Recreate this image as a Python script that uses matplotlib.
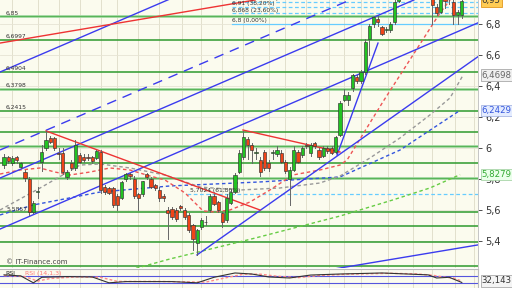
import matplotlib
matplotlib.use("Agg")
import matplotlib.pyplot as plt
from matplotlib.patches import Rectangle
from matplotlib.ticker import FuncFormatter

# ---------------- data ----------------
opens = [5.89, 5.94, 5.90, 5.94, 5.88, 5.845, 5.80, 5.59, 5.715, 5.91,
         6.00, 6.065, 6.065, 5.965, 5.97, 5.81, 5.90, 5.87, 5.955, 5.94,
         5.945, 5.94, 5.935, 5.975, 5.75, 5.74, 5.745, 5.69, 5.68, 5.80,
         5.83, 5.80, 5.70, 5.70, 5.83, 5.80, 5.76, 5.73, 5.69, 5.60,
         5.605, 5.60, 5.625, 5.60, 5.57, 5.50, 5.39, 5.49, 5.52, 5.60,
         5.69, 5.65, 5.58, 5.535, 5.645, 5.715, 5.845, 5.94, 6.06, 6.02,
         5.97, 5.92, 5.975, 5.90, 5.965, 5.96, 5.97, 5.91, 5.80, 5.86,
         5.975, 5.955, 6.02, 5.965, 6.03, 5.99, 5.95, 6.00, 6.00, 5.975,
         6.085, 6.31, 6.31, 6.39, 6.46, 6.43, 6.49, 6.70, 6.80, 6.83,
         6.78, 6.76, 6.76, 6.81, 6.95, 7.00, 7.01, 7.03, 7.02, 7.04,
         7.02, 7.00, 6.98, 6.91, 6.88, 6.97, 6.99, 6.94, 6.86, 6.86]
closes = [5.94, 5.915, 5.935, 5.92, 5.90, 5.805, 5.585, 5.645, 5.72, 5.975,
          6.05, 6.04, 6.00, 5.96, 5.845, 5.845, 5.87, 6.02, 5.91, 5.92,
          5.935, 5.915, 5.98, 5.73, 5.715, 5.71, 5.635, 5.635, 5.78, 5.83,
          5.82, 5.69, 5.68, 5.785, 5.81, 5.75, 5.74, 5.68, 5.675, 5.58,
          5.555, 5.545, 5.615, 5.555, 5.47, 5.41, 5.47, 5.535, 5.525, 5.69,
          5.64, 5.60, 5.52, 5.68, 5.715, 5.825, 5.97, 6.07, 6.02, 5.99,
          5.975, 5.845, 5.87, 5.87, 5.975, 5.99, 5.91, 5.85, 5.86, 5.99,
          5.91, 6.00, 6.01, 6.02, 6.01, 5.94, 6.00, 5.98, 5.97, 6.07,
          6.29, 6.34, 6.34, 6.47, 6.43, 6.49, 6.685, 6.79, 6.845, 6.81,
          6.735, 6.765, 6.80, 6.94, 7.00, 6.98, 7.03, 7.02, 7.04, 7.02,
          7.00, 6.98, 6.92, 6.87, 6.97, 6.95, 6.97, 6.86, 6.88, 6.95]
highs = [5.96, 5.95, 5.95, 5.95, 5.91, 5.86, 5.81, 5.66, 5.75, 6.02,
         6.11, 6.08, 6.07, 6.00, 6.00, 5.86, 5.92, 6.05, 5.97, 5.96,
         5.96, 5.95, 5.99, 5.99, 5.76, 5.75, 5.75, 5.70, 5.79, 5.84,
         5.84, 5.82, 5.71, 5.79, 5.84, 5.81, 5.77, 5.75, 5.70, 5.62,
         5.62, 5.61, 5.63, 5.61, 5.58, 5.51, 5.48, 5.55, 5.56, 5.70,
         5.70, 5.66, 5.59, 5.70, 5.73, 5.84, 5.99, 6.11, 6.07, 6.03,
         6.00, 5.94, 5.99, 5.92, 5.99, 6.01, 5.99, 5.92, 5.88, 6.01,
         5.99, 6.01, 6.03, 6.03, 6.04, 6.00, 6.01, 6.01, 6.01, 6.08,
         6.30, 6.38, 6.36, 6.48, 6.47, 6.50, 6.70, 6.80, 6.85, 6.85,
         6.79, 6.78, 6.81, 6.97, 7.02, 7.03, 7.05, 7.05, 7.06, 7.06,
         7.04, 7.02, 7.00, 6.93, 7.00, 6.99, 7.00, 6.96, 6.89, 6.97]
lows = [5.87, 5.90, 5.89, 5.90, 5.87, 5.79, 5.565, 5.58, 5.68, 5.85,
        5.99, 6.03, 5.99, 5.93, 5.83, 5.80, 5.86, 5.86, 5.90, 5.91,
        5.92, 5.90, 5.93, 5.71, 5.70, 5.70, 5.62, 5.60, 5.67, 5.79,
        5.80, 5.68, 5.60, 5.69, 5.80, 5.74, 5.73, 5.66, 5.66, 5.41,
        5.54, 5.53, 5.60, 5.54, 5.46, 5.34, 5.31, 5.48, 5.50, 5.59,
        5.63, 5.59, 5.49, 5.52, 5.64, 5.71, 5.84, 5.93, 5.93, 5.90,
        5.93, 5.82, 5.86, 5.85, 5.93, 5.95, 5.90, 5.84, 5.63, 5.85,
        5.90, 5.94, 6.00, 5.95, 6.00, 5.93, 5.94, 5.97, 5.96, 5.97,
        6.08, 6.30, 6.28, 6.37, 6.42, 6.42, 6.48, 6.60, 6.78, 6.79,
        6.73, 6.75, 6.75, 6.80, 6.94, 6.96, 6.99, 7.00, 7.00, 7.00,
        6.98, 6.96, 6.80, 6.86, 6.87, 6.90, 6.93, 6.80, 6.80, 6.84]

# moving averages (candle index, price)
ma_red_x = [-0.95, 3.8, 8.6, 12.1, 15.7, 20.5, 25.2, 30.0, 34.8, 38.3, 43.1, 47.4,
            50.2, 53.8, 58.6, 63.3, 68.8, 75.2, 80.0, 81.7, 90.2, 103.8, 106.2]
ma_red_y = [5.832, 5.858, 5.871, 5.845, 5.826, 5.845, 5.871, 5.858, 5.819, 5.794, 5.710, 5.594,
            5.587, 5.600, 5.652, 5.729, 5.826, 5.858, 5.890, 5.923, 6.297, 6.871, 6.955]
ma_gray_x = [-0.95, 8.6, 18.1, 22.9, 30.0, 38.3, 46.7, 56.2, 65.7, 75.2, 80.0, 87.1, 94.3, 101.4, 106.2, 109.3]
ma_gray_y = [5.600, 5.742, 5.890, 5.897, 5.871, 5.826, 5.748, 5.729, 5.742, 5.774, 5.819, 5.935, 6.065, 6.213, 6.323, 6.470]
ma_blue_x = [-0.95, 6.9, 22.9, 39.5, 61.0, 80.0, 94.3, 108.6]
ma_blue_y = [5.568, 5.632, 5.716, 5.755, 5.781, 5.813, 5.987, 6.243]
ma_green_x = [30.0, 39.5, 59.8, 80.0, 92.6, 101.4, 108.6]
ma_green_y = [5.213, 5.284, 5.419, 5.561, 5.665, 5.742, 5.828]

# trend lines: (x0, y0, x1, y1)
blue_solid_lines = [(-0.95, 6.490, 40.0, 6.967),
                    (-0.95, 5.806, 97.6, 6.955),
                    (-0.95, 5.477, 112.9, 6.808),
                    (45.95, 5.310, 112.9, 6.590),
                    (79.3, 5.955, 89.05, 6.677),
                    (60.0, 5.135, 112.9, 5.375)]
blue_dashed_lines = [(-0.95, 5.987, 82.4, 6.955)]
red_lines = [(10.0, 6.110, 60.95, 5.600),
             (-0.95, 6.677, 59.8, 6.955),
             (56.9, 6.116, 80.0, 5.974)]

# horizontal support / resistance levels
levels = [6.85, 6.6997, 6.4904, 6.3798, 6.2415, 6.106, 6.016, 5.90, 5.806, 5.5857, 5.497, 5.394, 5.239]
level_labels = {6.85: "6,85", 6.6997: "6,6997", 6.4904: "6,4904", 6.3798: "6,3798",
                6.2415: "6,2415", 5.5857: "5,5857"}
light_levels = [6.85, 6.3798, 6.016, 5.806]

# fibonacci retracements
fib_levels = [6.8, 6.868, 6.91, 6.944]
fib_labels = ["6,8 (0,00%)", "6,868 (23,60%)", "6,91 (38,20%)", "6,944 (50,00%)"]
fib2_level = 5.7024
fib2_label = "5,7024 (61,80%)"

grid_x = [2, 8, 13, 18, 23, 27, 32, 37, 42.5, 47, 52, 57, 63, 67, 72, 77.5, 81, 85, 91.5, 97.5, 102, 107.5, 112]
price_ticks = [5.4, 5.6, 5.8, 6.0, 6.2, 6.4, 6.6, 6.8]

# RSI
rsi_x = [0, 4, 7, 9, 15, 21, 25, 29, 35, 40, 46, 50, 55, 59, 63, 68, 73, 80, 90, 96, 101, 103, 106, 109]
rsi_y = [76, 70, 30, 62, 66, 64, 30, 37, 37, 37, 30, 62, 87, 81, 64, 58, 75, 81, 87, 81, 76, 58, 62, 32.1]
sig_x = [0, 5, 8, 11, 17, 23, 27, 31, 37, 42, 48, 52, 57, 61, 65, 70, 75, 82, 92, 98, 102, 105, 107, 109]
sig_y = [72, 66, 40, 55, 64, 62, 38, 38, 38, 36, 34, 55, 80, 80, 68, 60, 72, 80, 85, 82, 74, 62, 58, 40]

# ---------------- drawing ----------------
W, H = 512, 288
fig = plt.figure(figsize=(W / 100, H / 100), dpi=100)
fig.patch.set_facecolor("white")
bg = "#fbfbee"
xlim = (-0.95, 112.86)

ax = fig.add_axes([0, 20 / H, 478 / W, 268 / H])
ax.set_facecolor(bg)
ax.set_xlim(*xlim)
ax.set_ylim(5.2258, 6.9548)

for gx in grid_x:
    ax.axvline(gx, color="#e2e0cc", lw=0.7, zorder=0)
for t in price_ticks:
    ax.axhline(t, color="#e6e4d4", lw=0.6, zorder=0)

# horizontal levels
for lv in levels:
    if lv in light_levels:
        ax.axhline(lv, color="#9fd69f", lw=2.0, zorder=1)
        ax.axhline(lv, color="#4caf4c", lw=0.6, zorder=1)
    else:
        ax.axhline(lv, color="#2e9a2e", lw=1.1, zorder=1)
    if lv in level_labels:
        ax.text(0.5, lv + 0.006, level_labels[lv], fontsize=4.3, color="#333333",
                ha="left", va="bottom", zorder=6)

# fibonacci
for k, (lv, lb) in enumerate(zip(fib_levels, fib_labels)):
    ax.plot([54.3, xlim[1]], [lv, lv], color="#66ccff", lw=0.9,
            ls="-" if k == 0 else (0, (3, 2)), zorder=2)
    ax.text(54.4, lv + 0.004, lb, fontsize=4.3, color="#333333", ha="left", va="bottom", zorder=6)
ax.plot([43.6, xlim[1]], [fib2_level, fib2_level], color="#66ccff", lw=0.9, ls=(0, (3, 2)), zorder=2)
ax.text(44.3, fib2_level + 0.008, fib2_label, fontsize=4.3, color="#333333", ha="left", va="bottom", zorder=6)

# moving averages
ax.plot(ma_green_x, ma_green_y, color="#66cc44", lw=1.0, ls=(0, (2.5, 2)), zorder=2)
ax.plot(ma_blue_x, ma_blue_y, color="#3355dd", lw=1.0, ls=(0, (2.5, 2)), zorder=2)
ax.plot(ma_gray_x, ma_gray_y, color="#999999", lw=1.0, ls=(0, (2.5, 2)), zorder=2)
ax.plot(ma_red_x, ma_red_y, color="#ee5555", lw=1.0, ls=(0, (2.5, 2)), zorder=2)

# trend lines
for x0, y0, x1, y1 in blue_solid_lines:
    ax.plot([x0, x1], [y0, y1], color="#3b3bee", lw=1.0, zorder=3)
for x0, y0, x1, y1 in blue_dashed_lines:
    ax.plot([x0, x1], [y0, y1], color="#3b3bee", lw=1.0, ls=(0, (7, 5)), zorder=3)
for x0, y0, x1, y1 in red_lines:
    ax.plot([x0, x1], [y0, y1], color="#ee3333", lw=1.0, zorder=3)

# candles
for i, (o, h, l, c) in enumerate(zip(opens, highs, lows, closes)):
    ax.plot([i, i], [l, h], color="#666666", lw=0.7, zorder=4)
    up = c >= o
    body_h = max(abs(c - o), 0.004)
    ax.add_patch(Rectangle((i - 0.36, min(o, c)), 0.72, body_h,
                           facecolor="#22c322" if up else "#f04418",
                           edgecolor="#333333", lw=0.45, zorder=5))

ax.text(0.4, 5.245, "© IT-Finance.com", fontsize=5, color="#444444", ha="left", va="bottom", zorder=6)

# right axis
ax.yaxis.tick_right()
ax.set_yticks(price_ticks)
ax.yaxis.set_major_formatter(FuncFormatter(lambda v, p: f"{v:g}".replace(".", ",")))
ax.tick_params(axis="y", labelsize=7, colors="#333333", length=3, width=0.6, pad=2)
ax.set_xticks([])
for s in ["top", "left", "bottom"]:
    ax.spines[s].set_visible(False)
ax.spines["right"].set_color("#bbbbbb")
ax.spines["right"].set_linewidth(0.6)

ytr = ax.get_yaxis_transform()
box_labels = [(6.4698, "6,4698", "#666666", "#f0f0f0", "#999999"),
              (6.2429, "6,2429", "#3355dd", "#e4ecff", "#99aadd"),
              (5.8279, "5,8279", "#33aa33", "#eaffea", "#99cc99")]
for yv, txt, tc, fc, ec in box_labels:
    ax.text(1.008, yv, txt, transform=ytr, fontsize=6.2, color=tc, ha="left", va="center",
            bbox=dict(boxstyle="square,pad=0.15", fc=fc, ec=ec, lw=0.5), zorder=7, clip_on=False)
ax.text(1.008, closes[-1], "6,95", transform=ytr, fontsize=6.2, color="#333333", ha="left", va="center",
        bbox=dict(boxstyle="square,pad=0.15", fc="#ffcc55", ec="#dd8800", lw=0.5), zorder=7, clip_on=False)
ax.text(1.085, closes[-1], "35", transform=ytr, fontsize=6.2, color="#ee3333", ha="left", va="center",
        zorder=7, clip_on=False)

# RSI panel
rx = fig.add_axes([0, 0, 478 / W, 19 / H])
rx.set_facecolor(bg)
rx.set_xlim(*xlim)
rx.set_ylim(0, 110)
for gx in grid_x:
    rx.axvline(gx, color="#e2e0cc", lw=0.7, zorder=0)
rx.axhline(70, color="#5555dd", lw=0.8)
rx.axhline(30, color="#5555dd", lw=0.8)
rx.plot(sig_x, sig_y, color="#ff8888", lw=1.0, ls=(0, (2, 1.5)))
rx.plot(rsi_x, rsi_y, color="#333333", lw=0.8)
rx.text(0.3, 98, "RSI", fontsize=4.5, color="#222222", va="top", ha="left")
rx.text(5.0, 98, "RSI (14,1,3)", fontsize=4.5, color="#ff7777", va="top", ha="left")
rx.set_xticks([])
rx.set_yticks([])
for s in ["top", "left", "bottom"]:
    rx.spines[s].set_visible(False)
rx.spines["top"].set_visible(True)
rx.spines["top"].set_color("#bbbbbb")
rx.spines["right"].set_color("#bbbbbb")
rx.text(1.008, rsi_y[-1] + 10, "32,143", transform=rx.get_yaxis_transform(), fontsize=6.2,
        color="#333333", ha="left", va="center",
        bbox=dict(boxstyle="square,pad=0.15", fc="#f4f4f4", ec="#999999", lw=0.5), clip_on=False)

fig.savefig("out.png", dpi=100)
